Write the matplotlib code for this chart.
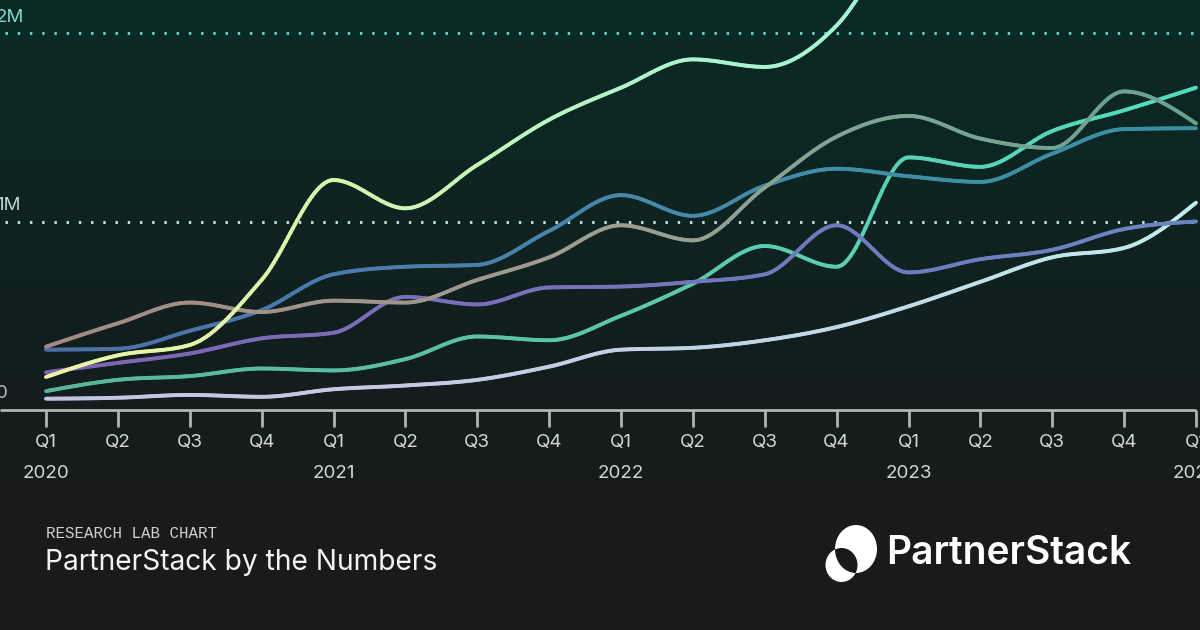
import numpy as np
import matplotlib
matplotlib.use("Agg")
import matplotlib.pyplot as plt
from matplotlib.collections import LineCollection
from matplotlib.colors import LinearSegmentedColormap, Normalize
from matplotlib.patches import Ellipse

# data (millions), quarterly Q1 2020 .. Q1 2024
quarters = ["Q1", "Q2", "Q3", "Q4"] * 4 + ["Q1"]
years = ["2020", "2021", "2022", "2023", "2024"]
mint = [0.175, 0.29, 0.345, 0.69, 1.22, 1.07, 1.30, 1.54, 1.71, 1.86, 1.82, 2.04, 2.6, 2.9, 3.1, 3.3, 3.5]
taupe = [0.336, 0.46, 0.57, 0.52, 0.58, 0.57, 0.69, 0.81, 0.98, 0.90, 1.18, 1.45, 1.56, 1.44, 1.39, 1.69, 1.52]
steel = [0.32, 0.325, 0.42, 0.53, 0.72, 0.76, 0.77, 0.95, 1.14, 1.03, 1.19, 1.28, 1.24, 1.21, 1.36, 1.49, 1.495]
purple = [0.20, 0.25, 0.30, 0.38, 0.41, 0.60, 0.56, 0.65, 0.655, 0.68, 0.72, 0.98, 0.73, 0.80, 0.85, 0.96, 1.00]
teal = [0.10, 0.16, 0.18, 0.22, 0.21, 0.27, 0.39, 0.37, 0.50, 0.67, 0.87, 0.76, 1.34, 1.29, 1.48, 1.59, 1.71]
lavender = [0.06, 0.065, 0.08, 0.07, 0.11, 0.13, 0.16, 0.23, 0.32, 0.33, 0.37, 0.44, 0.55, 0.68, 0.81, 0.86, 1.10]

series = [
    (lavender, ["#c4c4e2", "#c4c8e4", "#c2d0e6", "#c0dce8", "#c0ecec"]),
    (teal, ["#58b49c", "#5abca4", "#5cc6aa", "#58d2b4", "#52dcbc"]),
    (purple, ["#7e62b2", "#7a6cb8", "#7474ba", "#6e7cbe", "#6a84c0"]),
    (steel, ["#4b6fa6", "#4a7aab", "#4886a8", "#3f8ea6", "#3a8ea0"]),
    (taupe, ["#a38a82", "#a0948a", "#9c9e90", "#7aa494", "#6aa08e"]),
    (mint, ["#eef3a6", "#d8f5ac", "#b0f5c8", "#a4f3d6", "#9ef0dc"]),
]


def monotone(x, y, n=30):
    # monotone cubic (like d3 curveMonotoneX)
    x = np.asarray(x, float)
    y = np.asarray(y, float)
    h = np.diff(x)
    d = np.diff(y) / h
    m = np.zeros_like(y)
    for i in range(1, len(y) - 1):
        s0, s1 = d[i - 1], d[i]
        if s0 * s1 <= 0:
            m[i] = 0
        else:
            p = (s0 * h[i] + s1 * h[i - 1]) / (h[i - 1] + h[i])
            m[i] = (np.sign(s0) + np.sign(s1)) * min(abs(s0), abs(s1), 0.5 * abs(p))
    m[0] = (3 * d[0] - m[1]) / 2
    m[-1] = (3 * d[-1] - m[-2]) / 2
    xs, ys = [], []
    for i in range(len(h)):
        t = np.linspace(0, 1, n, endpoint=False)
        h00 = 2 * t**3 - 3 * t**2 + 1
        h10 = t**3 - 2 * t**2 + t
        h01 = -2 * t**3 + 3 * t**2
        h11 = t**3 - t**2
        xs.append(x[i] + t * h[i])
        ys.append(h00 * y[i] + h10 * h[i] * m[i] + h01 * y[i + 1] + h11 * h[i] * m[i + 1])
    xs.append([x[-1]])
    ys.append([y[-1]])
    return np.concatenate(xs), np.concatenate(ys)


W, H = 1200, 630
fig = plt.figure(figsize=(12, 6.3), dpi=100)
fig.patch.set_facecolor("#1a1a1a")

# pixel -> data mapping: Q1 2020 at x=46, 71.875 px per quarter; 0 at y=410, 188.5 px per 1M
px = 71.875
py = 188.5
x0 = -46 / px
x1 = (W - 46) / px
y_top = 410 / py
y_bot = -(480 - 410) / py

ax = fig.add_axes([0, 150 / H, 1, 480 / H])
ax.set_xlim(x0, x1)
ax.set_ylim(y_bot, y_top)
ax.axis("off")

# background gradient
grad = np.linspace(0, 1, 256)[:, None]
bg = LinearSegmentedColormap.from_list("bg", ["#0b2a26", "#0d2623", "#121f1e", "#151c1c"])
ax.imshow(grad, extent=[x0, x1, y_bot, y_top], aspect="auto", cmap=bg, origin="upper", zorder=0)

# grid lines
ax.hlines(2, -0.57, x1, colors="#5fd3c3", linestyles=(0, (0.8, 3.2)), linewidth=2.2, zorder=1)
ax.hlines(1, -0.57, x1, colors="#c3dbd3", linestyles=(0, (0.8, 3.2)), linewidth=2.2, zorder=1)
for lab, v, c in [("2M", 2, "#7fdccb"), ("1M", 1, "#c0d6ce"), ("0", 0, "#b4bcb8")]:
    ax.text(-4 / px + x0, v + 16 / py, lab, ha="left", va="center", fontsize=13.5,
            family="Inter", color=c, clip_on=True, zorder=2)

# x axis
xs_idx = np.arange(len(quarters))
ax.plot([x0, 16], [0, 0], color="#aeb6b2", linewidth=2, solid_capstyle="butt", zorder=2)
ax.vlines(xs_idx, -17 / py, 0, colors="#aeb6b2", linewidth=2, zorder=2)
for i, q in enumerate(quarters):
    ax.text(i, -32 / py, q, ha="center", va="center", fontsize=13.5, family="Inter",
            color="#d2d7d5", clip_on=True, zorder=2)
for j, yr in enumerate(years):
    ax.text(j * 4, -64 / py, yr, ha="center", va="center", fontsize=13.5, family="Inter",
            color="#d2d7d5", clip_on=True, zorder=2)

# series lines with colour gradients
norm = Normalize(0, 16)
for k, (vals, stops) in enumerate(series):
    sx, sy = monotone(xs_idx, vals)
    pts = np.column_stack([sx, sy]).reshape(-1, 1, 2)
    segs = np.concatenate([pts[:-1], pts[1:]], axis=1)
    cmap = LinearSegmentedColormap.from_list("s%d" % k, stops)
    lc = LineCollection(segs, cmap=cmap, norm=norm, linewidth=2.8, capstyle="round",
                        joinstyle="round", zorder=3 + k)
    lc.set_array(sx[:-1])
    ax.add_collection(lc)

# footer band, drawn in pixel coordinates
ov = fig.add_axes([0, 0, 1, 1])
ov.set_xlim(0, W)
ov.set_ylim(H, 0)
ov.axis("off")
ov.text(46, 533, "RESEARCH LAB CHART", ha="left", va="center", fontsize=11.4,
        family="Liberation Mono", color="#cfcfcf")
ov.text(45, 563, "PartnerStack by the Numbers", ha="left", va="center", fontsize=20.3,
        family="Inter", color="#f2f2f2")
ov.text(886, 553, "PartnerStack", ha="left", va="center", fontsize=28,
        family="Inter", fontweight="semibold", color="#ffffff")

# logo mark
big = Ellipse((856, 549), 42, 48, facecolor="white", edgecolor="none")
small = Ellipse((841.5, 565), 32, 34, facecolor="white", edgecolor="none")
lens = Ellipse((841.5, 565), 32, 34, facecolor="#1a1a1a", edgecolor="none")
ov.add_patch(big)
ov.add_patch(small)
ov.add_patch(lens)
lens.set_clip_path(big)

fig.savefig("out.png", dpi=100, facecolor=fig.get_facecolor())
